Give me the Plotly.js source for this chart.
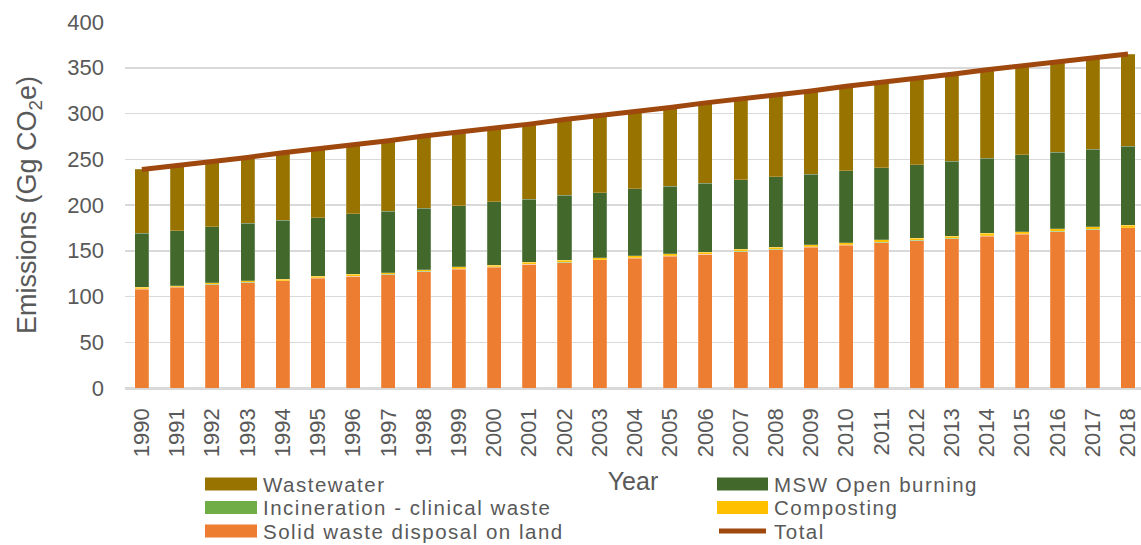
<!DOCTYPE html>
<html><head><meta charset="utf-8">
<script src="https://cdn.plot.ly/plotly-3.0.1.min.js"></script>
<style>html,body{margin:0;padding:0;background:#fff}</style>
</head><body><div id="chart" style="width:1141px;height:545px"></div>
<script>
const years = ["1990","1991","1992","1993","1994","1995","1996","1997","1998","1999","2000","2001","2002","2003","2004","2005","2006","2007","2008","2009","2010","2011","2012","2013","2014","2015","2016","2017","2018"];
const solidWaste = [108,110,113,115,117,120,122,124,127,130,132,135,137,140,142,144,146,149,151,154,156,159,161,163,166,168,171,173,175];
const clinical = [0.4,0.4,0.4,0.4,0.4,0.4,0.4,0.4,0.4,0.4,0.4,0.4,0.4,0.4,0.4,0.4,0.4,0.4,0.4,0.4,0.4,0.4,0.4,0.4,0.4,0.4,0.4,0.4,0.4];
const composting = [1.5,1.5,1.6,1.6,1.7,1.7,1.8,1.8,1.9,1.9,2.0,2.0,2.0,2.1,2.1,2.2,2.2,2.2,2.3,2.3,2.3,2.4,2.4,2.4,2.5,2.5,2.5,2.6,2.6];
const mswBurning = [59,60,61,63,64,64,66,67,67,67,69,69,71,71,73,74,75,76,77,77,79,79,80,82,82,84,84,85,86];
const wastewater = [70,71,72,72,74,75,76,77,79,80,81,82,83,84,85,86,88,88,90,91,92,93,95,95,97,97,99,100,101];
const total = years.map((_, i) => solidWaste[i] + clinical[i] + composting[i] + mswBurning[i] + wastewater[i]);

const seriesNames = ["Wastewater","MSW Open burning","Incineration - clinical waste","Composting","Solid waste disposal on land","Total"];
const C = {ww:"#997300", msw:"#43682B", inc:"#70AD47", comp:"#FFC000", solid:"#ED7D31", tot:"#9E480E"};
const seriesColors = [C.ww, C.msw, C.inc, C.comp, C.solid, C.tot];

const edge = {color:"rgba(255,255,255,0.35)", width:0.6};
function bar(name, y, color){
  return {type:"bar", name, x:years, y, marker:{color, line:edge}, showlegend:false};
}
const traces = [
  bar(seriesNames[4], solidWaste, C.solid),
  bar(seriesNames[2], clinical, C.inc),
  bar(seriesNames[3], composting, C.comp),
  bar(seriesNames[1], mswBurning, C.msw),
  bar(seriesNames[0], wastewater, C.ww),
  {type:"scatter", mode:"lines", name:seriesNames[5], x:years, y:total, line:{color:C.tot, width:5}, showlegend:false}
];

// plot area geometry (pixels)
const L = 125, R = 1141, T = 22, B = 388;
const px = v => (v - L) / (R - L);
const py = v => (B - v) / (B - T);

// custom legend (2 columns x 3 rows), built from names/colors
const colSwatch = [[205, 257], [717, 768]];
const colText = [263, 774];
const rowY = [484, 507.5, 531];
const shapes = [], annotations = [];
seriesNames.forEach((nm, i) => {
  const col = i % 2, row = Math.floor(i / 2);
  const [x0, x1] = colSwatch[col];
  const yc = rowY[row];
  if (nm === "Total") {
    shapes.push({type:"line", xref:"paper", yref:"paper", x0:px(x0+2), x1:px(x1-2), y0:py(yc), y1:py(yc),
                 line:{color:seriesColors[i], width:5}});
  } else {
    shapes.push({type:"rect", xref:"paper", yref:"paper", x0:px(x0), x1:px(x1), y0:py(yc-6.5), y1:py(yc+6.5),
                 fillcolor:seriesColors[i], line:{width:0}});
  }
  annotations.push({xref:"paper", yref:"paper", x:px(colText[col]-1), y:py(yc+0.5), xanchor:"left", yanchor:"middle",
                    showarrow:false, borderpad:0,
                    text:'<span style="letter-spacing:1.5px">' + nm + '</span>', font:{size:20.5, color:"#595959"}});
});

const font = {family:"Liberation Sans, Arial, sans-serif", color:"#595959"};
const layout = {
  width:1141, height:545,
  margin:{l:L, r:1141-R, t:T, b:545-B, autoexpand:false},
  paper_bgcolor:"#fff", plot_bgcolor:"#fff",
  font:font,
  barmode:"stack", bargap:0.6,
  showlegend:false,
  xaxis:{type:"category", range:[-0.48, 28.37], tickangle:-90, tickfont:{size:22, color:"#595959"}, showgrid:false, ticks:"", automargin:false,
         showline:true, linecolor:"#d9d9d9", linewidth:1.5, ticklabelstandoff:10,
         title:{text:"Year", font:{size:25, color:"#595959"}, standoff:16}},
  yaxis:{range:[0,400], dtick:50, tickfont:{size:22, color:"#595959"}, gridcolor:"#d9d9d9", gridwidth:1.5, automargin:false,
         zeroline:true, zerolinecolor:"#d9d9d9", zerolinewidth:1.5, ticks:"", ticklabelstandoff:20,
         title:{text:"Emissions (Gg CO<sub>2</sub>e)", font:{size:27, color:"#595959"}, standoff:22}},
  shapes, annotations
};
Plotly.newPlot("chart", traces, layout, {displayModeBar:false, staticPlot:true});
</script></body></html>
